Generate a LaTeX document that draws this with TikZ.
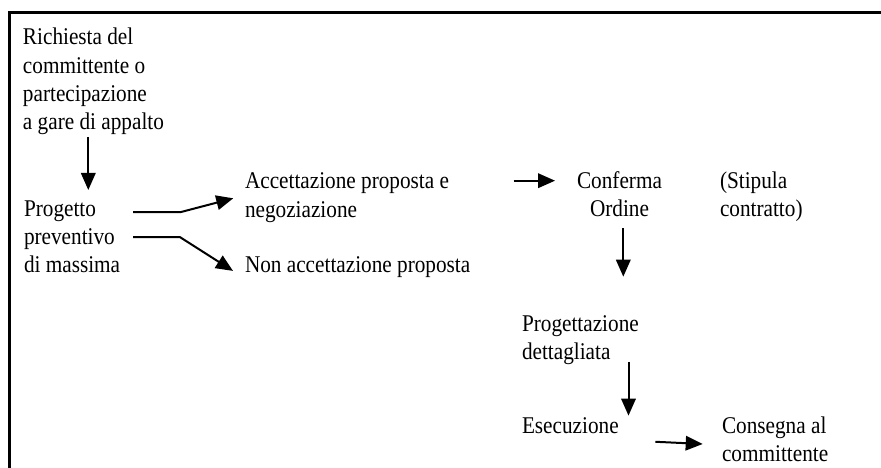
\documentclass[tikz,border=0pt]{standalone}
\usepackage{fontspec}
\setmainfont{Liberation Serif}[FakeStretch=0.885]
\usetikzlibrary{arrows.meta,calc}
% stacked lines whose baseline is that of the first line
\newcommand\stacklines[2][l]{\begin{tabular}[t]{@{}#1@{}}#2\end{tabular}}

\begin{document}
\begin{tikzpicture}[x=1pt,y=-1pt,
  txt/.style={inner sep=0pt, outer sep=0pt, anchor=base west,
              font=\fontsize{24}{28.3}\selectfont},
  arr/.style={line width=2pt, -{Triangle[length=17pt,width=14.5pt]}},
  frame/.style={line width=2.4pt, line join=miter}]
\useasboundingbox (0,0) rectangle (881,468);

% open frame: top and left edges
\draw[frame] (9.5,470) -- (9.5,12.5) -- (883,12.5);

% steps of the process
\node[txt] (req) at (23,45)
  {\stacklines{Richiesta del\\committente o\\partecipazione\\a gare di appalto}};
\node[txt] (prog) at (24,216)
  {\stacklines{Progetto\\preventivo\\di massima}};
\node[txt] (acc) at (245,189)
  {\stacklines{Accettazione proposta e\\negoziazione}};
\node[txt] (nonacc) at (245,272) {Non accettazione proposta};
\node[txt, anchor=base] (conf) at (619.5,188.5)
  {\stacklines[c]{Conferma\\Ordine}};
\node[txt] (stip) at (720,188.5)
  {\stacklines{(Stipula\\contratto)}};
\node[txt] (progdet) at (522,331.5)
  {\stacklines{Progettazione\\dettagliata}};
\node[txt] (esec) at (522,433) {Esecuzione};
\node[txt] (cons) at (722,433)
  {\stacklines{Consegna al\\committente}};

% connectors
\draw[arr] ($(req.south west)+(65.3,-1.4)$) -- ($(prog.north west)+(64.3,-6.2)$);
\draw[arr] ($(prog.east)+(13,-26.4)$) -- ++(47,0) -- ($(acc.west)+(-11.7,0.8)$);
\draw[arr] ($(prog.east)+(13,-1.4)$) -- ++(47,0) -- ($(nonacc.west)+(-12,4.3)$);
\draw[arr] ($(acc.east)+(64.7,-16.8)$) -- ($(conf.west)+(-22,-16.3)$);
\draw[arr] ($(conf.south)+(3.8,3)$) -- ($(progdet.north west)+(101.3,-35)$);
\draw[arr] ($(progdet.south west)+(106.5,-6.3)$) -- ($(esec.north west)+(106.5,-1.5)$);
\draw[arr] ($(esec.east)+(36.7,16.6)$) -- ($(cons.west)+(-19.3,2.5)$);
\end{tikzpicture}
\end{document}
